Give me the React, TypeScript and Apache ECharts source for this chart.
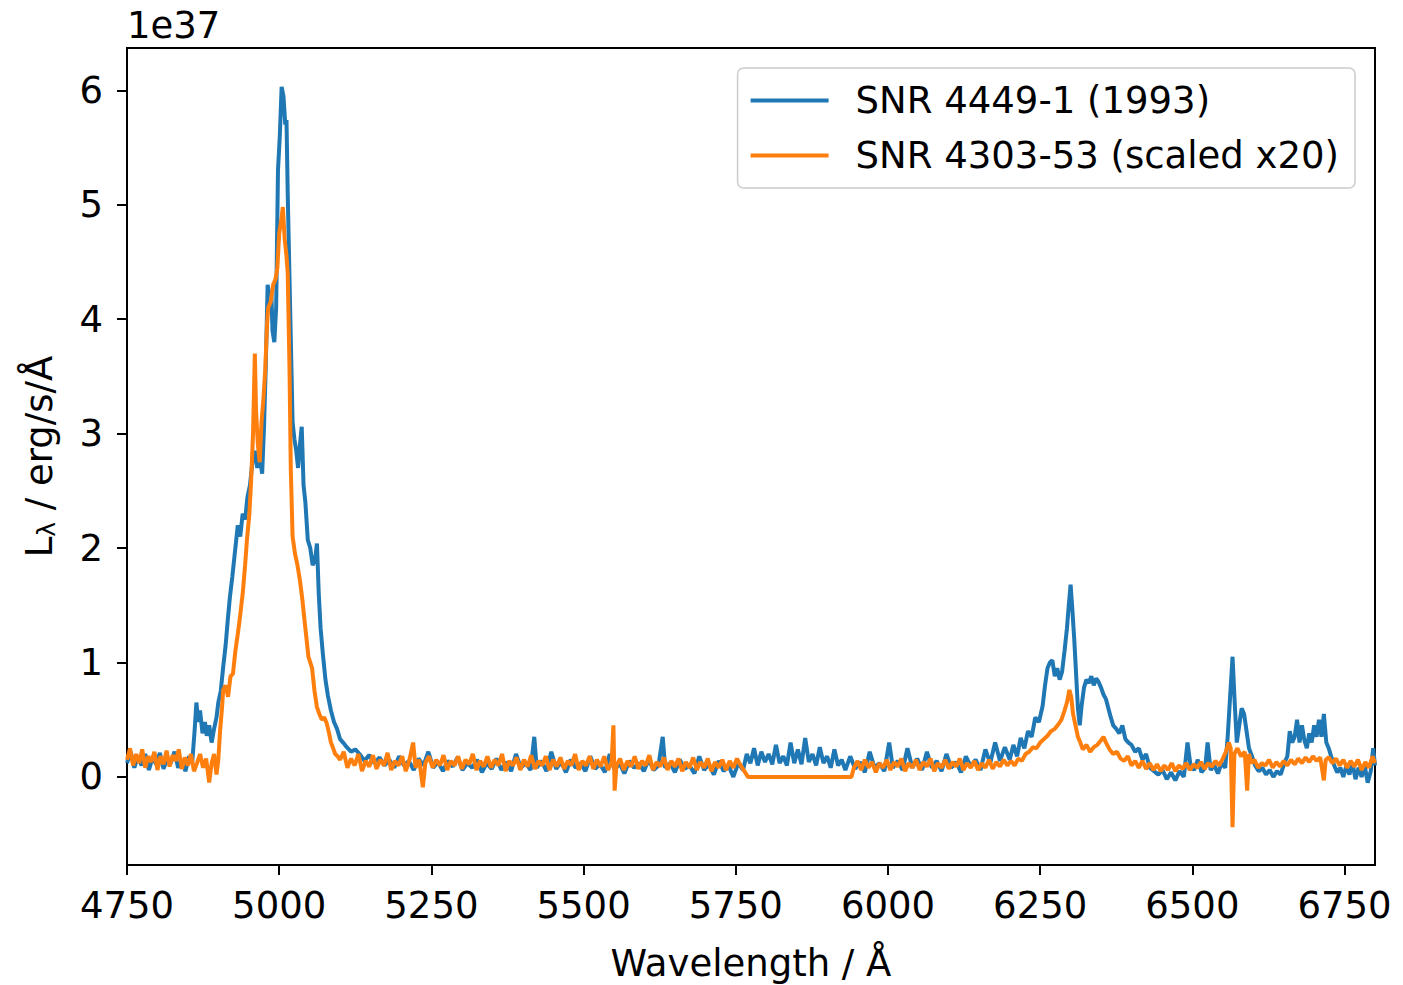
import React, { useEffect, useRef } from "react";
import * as echarts from "echarts";

// Values in units of 1e37 erg/s/Å
const blueWave = [
  4750, 4756, 4762, 4768, 4774, 4780, 4786, 4792, 4798, 4804, 4810, 4816, 4822, 4828, 4834, 4840, 4846, 4852, 4857, 4861,
  4864, 4867, 4870, 4874, 4878, 4881, 4885, 4889, 4893, 4897, 4900, 4904, 4908, 4912, 4916, 4919, 4923, 4927, 4932, 4936,
  4940, 4944, 4948, 4952, 4956, 4960, 4964, 4968, 4972, 4975, 4978, 4981, 4984, 4987, 4989, 4992, 4995, 4998, 5001, 5004,
  5007, 5010, 5012, 5014, 5017, 5020, 5022, 5025, 5028, 5031, 5034, 5037, 5040, 5043, 5047, 5051, 5055, 5059, 5062, 5065,
  5068, 5072, 5076, 5080, 5085, 5090, 5095, 5100, 5105, 5111, 5118, 5125, 5132, 5140, 5148, 5156, 5165, 5173, 5181, 5189,
  5197, 5205, 5213, 5221, 5229, 5237, 5245, 5253, 5261, 5269, 5277, 5285, 5293, 5301, 5309, 5317, 5325, 5333, 5341, 5349,
  5357, 5365, 5373, 5381, 5389, 5397, 5405, 5413, 5419, 5423, 5431, 5439, 5447, 5455, 5463, 5471, 5479, 5487, 5495, 5503,
  5511, 5519, 5527, 5535, 5543, 5551, 5559, 5567, 5575, 5583, 5591, 5599, 5607, 5615, 5623, 5630, 5634, 5642, 5650, 5658,
  5666, 5674, 5682, 5690, 5698, 5706, 5714, 5722, 5730, 5738, 5746, 5754, 5762, 5768, 5774, 5780, 5786, 5792, 5798, 5804,
  5810, 5816, 5822, 5828, 5834, 5840, 5846, 5852, 5858, 5864, 5870, 5876, 5882, 5888, 5894, 5900, 5906, 5912, 5918, 5924,
  5930, 5938, 5946, 5954, 5962, 5970, 5978, 5986, 5994, 6002, 6008, 6016, 6024, 6032, 6040, 6048, 6056, 6064, 6072, 6080,
  6088, 6096, 6104, 6112, 6120, 6128, 6136, 6144, 6152, 6160, 6168, 6176, 6184, 6192, 6200, 6206, 6212, 6218, 6224, 6230,
  6236, 6242, 6248, 6254, 6258, 6262, 6266, 6270, 6274, 6278, 6282, 6286, 6290, 6294, 6297, 6300, 6303, 6306, 6309, 6312,
  6315, 6318, 6322, 6326, 6330, 6334, 6338, 6342, 6346, 6350, 6354, 6358, 6362, 6366, 6370, 6375, 6380, 6385, 6390, 6395,
  6400, 6406, 6412, 6418, 6424, 6430, 6437, 6444, 6451, 6458, 6465, 6472, 6479, 6486, 6492, 6497, 6503, 6509, 6515, 6521,
  6525, 6530, 6536, 6542, 6548, 6554, 6558, 6562, 6566, 6570, 6573, 6577, 6581, 6585, 6589, 6593, 6598, 6603, 6609, 6615,
  6621, 6627, 6633, 6639, 6645, 6651, 6656, 6660, 6664, 6668, 6672, 6676, 6680, 6684, 6688, 6692, 6696, 6700, 6704, 6708,
  6712, 6716, 6720, 6724, 6728, 6733, 6738, 6743, 6748, 6753, 6758, 6763, 6768, 6773, 6778, 6783, 6788, 6793, 6797, 6800,
];
const blueFlux = [
  0.12, 0.22, 0.08, 0.18, 0.10, 0.20, 0.06, 0.17, 0.11, 0.21, 0.07, 0.16, 0.12, 0.22, 0.08, 0.15, 0.05, 0.18, 0.12, 0.40,
  0.65, 0.48, 0.58, 0.38, 0.48, 0.36, 0.45, 0.30, 0.42, 0.52, 0.65, 0.75, 0.96, 1.15, 1.40, 1.57, 1.75, 1.95, 2.20, 2.10,
  2.30, 2.25, 2.45, 2.55, 2.75, 2.85, 2.70, 2.80, 2.65, 3.05, 3.60, 4.30, 4.20, 4.25, 3.90, 3.80, 4.10, 5.30, 5.60, 6.03,
  5.95, 5.70, 5.74, 5.10, 4.34, 3.60, 3.10, 2.95, 2.85, 2.70, 2.90, 3.06, 2.55, 2.40, 2.07, 2.00, 1.85, 1.90, 2.04, 1.60,
  1.30, 1.06, 0.85, 0.71, 0.58, 0.48, 0.42, 0.33, 0.30, 0.26, 0.22, 0.24, 0.20, 0.14, 0.19, 0.12, 0.17, 0.10, 0.15, 0.08,
  0.18, 0.10, 0.14, 0.06, 0.16, 0.10, 0.22, 0.08, 0.13, 0.05, 0.14, 0.09, 0.17, 0.06, 0.12, 0.08, 0.15, 0.04, 0.12, 0.07,
  0.16, 0.06, 0.13, 0.05, 0.20, 0.08, 0.12, 0.06, 0.35, 0.08, 0.14, 0.05, 0.22, 0.07, 0.13, 0.04, 0.15, 0.08, 0.12, 0.05,
  0.18, 0.07, 0.11, 0.04, 0.20, 0.06, 0.12, 0.03, 0.14, 0.08, 0.12, 0.05, 0.15, 0.06, 0.10, 0.35, 0.08, 0.12, 0.04, 0.15,
  0.07, 0.10, 0.03, 0.18, 0.06, 0.11, 0.02, 0.14, 0.05, 0.10, 0.00, 0.12, 0.06, 0.20, 0.12, 0.25, 0.10, 0.22, 0.13, 0.20,
  0.11, 0.28, 0.12, 0.18, 0.10, 0.30, 0.12, 0.24, 0.11, 0.34, 0.13, 0.20, 0.10, 0.26, 0.12, 0.18, 0.08, 0.24, 0.10, 0.15,
  0.06, 0.18, 0.07, 0.13, 0.04, 0.22, 0.08, 0.12, 0.05, 0.30, 0.08, 0.14, 0.06, 0.25, 0.08, 0.16, 0.06, 0.22, 0.08, 0.14,
  0.05, 0.20, 0.08, 0.13, 0.04, 0.18, 0.09, 0.15, 0.06, 0.24, 0.12, 0.30, 0.14, 0.26, 0.15, 0.28, 0.18, 0.34, 0.25, 0.40,
  0.35, 0.52, 0.48, 0.62, 0.80, 0.95, 1.00, 1.02, 0.88, 0.95, 0.85, 0.92, 1.10, 1.30, 1.50, 1.68, 1.45, 1.20, 0.90, 0.60,
  0.45, 0.62, 0.78, 0.85, 0.82, 0.88, 0.80, 0.86, 0.83, 0.78, 0.72, 0.68, 0.60, 0.52, 0.45, 0.42, 0.38, 0.45, 0.33, 0.30,
  0.28, 0.22, 0.25, 0.15, 0.20, 0.08, 0.05, 0.02, 0.06, -0.02, 0.04, -0.03, 0.05, 0.00, 0.30, 0.10, 0.06, 0.15, 0.04, 0.08,
  0.30, 0.06, 0.10, 0.03, 0.12, 0.08, 0.35, 0.70, 1.05, 0.60, 0.30, 0.45, 0.60, 0.55, 0.40, 0.25, 0.18, 0.10, 0.05, 0.08,
  0.02, 0.06, 0.00, 0.05, 0.02, 0.12, 0.18, 0.40, 0.30, 0.35, 0.50, 0.30, 0.45, 0.32, 0.25, 0.38, 0.30, 0.45, 0.35, 0.50,
  0.35, 0.55, 0.30, 0.25, 0.18, 0.10, 0.04, 0.08, 0.00, 0.10, 0.02, 0.12, -0.02, 0.08, 0.00, 0.10, -0.05, 0.05, 0.25, 0.10,
];

const orangeWave = [
  4750, 4755, 4760, 4765, 4770, 4775, 4780, 4785, 4790, 4795, 4800, 4805, 4810, 4815, 4820, 4825, 4830, 4835, 4840, 4845,
  4850, 4855, 4860, 4865, 4870, 4875, 4880, 4885, 4889, 4893, 4897, 4900, 4903, 4906, 4908, 4912, 4916, 4920, 4924, 4928,
  4932, 4935, 4940, 4944, 4947, 4951, 4954, 4957, 4960, 4962, 4965, 4968, 4971, 4974, 4977, 4980, 4982, 4986, 4990, 4994,
  4997, 5000, 5003, 5006, 5009, 5012, 5014, 5017, 5019, 5022, 5026, 5030, 5034, 5038, 5042, 5045, 5048, 5051, 5054, 5058,
  5062, 5066, 5070, 5074, 5078, 5082, 5085, 5088, 5092, 5096, 5100, 5106, 5112, 5118, 5124, 5130, 5136, 5142, 5148, 5154,
  5160, 5166, 5172, 5178, 5184, 5190, 5196, 5202, 5208, 5214, 5220, 5224, 5230, 5236, 5240, 5246, 5252, 5258, 5264, 5270,
  5276, 5282, 5288, 5294, 5300, 5306, 5312, 5318, 5324, 5330, 5336, 5342, 5348, 5354, 5360, 5366, 5372, 5378, 5384, 5390,
  5396, 5402, 5408, 5414, 5420, 5426, 5432, 5438, 5444, 5450, 5456, 5462, 5468, 5474, 5480, 5486, 5492, 5498, 5504, 5510,
  5516, 5522, 5528, 5534, 5540, 5546, 5549, 5551, 5554, 5560, 5566, 5572, 5578, 5584, 5590, 5596, 5602, 5608, 5614, 5620,
  5626, 5632, 5638, 5644, 5650, 5656, 5662, 5668, 5674, 5680, 5686, 5692, 5698, 5704, 5710, 5716, 5722, 5728, 5734, 5740,
  5746, 5752, 5758, 5764, 5770, 5940, 5944, 5950, 5956, 5962, 5968, 5974, 5980, 5986, 5992, 5998, 6004, 6010, 6016, 6022,
  6028, 6034, 6040, 6046, 6052, 6058, 6064, 6070, 6076, 6082, 6088, 6094, 6100, 6106, 6112, 6118, 6124, 6130, 6136, 6142,
  6148, 6154, 6160, 6166, 6172, 6178, 6184, 6190, 6196, 6202, 6208, 6214, 6220, 6226, 6232, 6238, 6244, 6250, 6256, 6262,
  6268, 6274, 6280, 6285, 6290, 6294, 6298, 6301, 6304, 6308, 6312, 6316, 6320, 6326, 6332, 6338, 6344, 6350, 6354, 6358,
  6364, 6370, 6376, 6382, 6388, 6394, 6400, 6406, 6412, 6418, 6424, 6430, 6436, 6442, 6448, 6454, 6460, 6466, 6472, 6478,
  6484, 6490, 6496, 6502, 6508, 6514, 6520, 6526, 6532, 6538, 6544, 6550, 6555, 6560, 6563, 6566, 6569, 6574, 6580, 6586,
  6590, 6593, 6597, 6602, 6608, 6614, 6620, 6626, 6632, 6638, 6644, 6650, 6656, 6662, 6668, 6674, 6680, 6686, 6692, 6698,
  6704, 6710, 6716, 6719, 6724, 6730, 6736, 6742, 6748, 6754, 6760, 6766, 6772, 6778, 6784, 6790, 6796, 6800,
];
const orangeFlux = [
  0.15, 0.25, 0.10, 0.20, 0.12, 0.24, 0.08, 0.18, 0.13, 0.22, 0.06, 0.18, 0.11, 0.23, 0.09, 0.19, 0.14, 0.24, 0.07, 0.17,
  0.10, 0.20, 0.05, 0.12, 0.20, 0.08, 0.16, -0.05, 0.12, 0.20, 0.02, 0.15, 0.41, 0.60, 0.76, 0.80, 0.70, 0.88, 0.90, 1.10,
  1.25, 1.37, 1.60, 1.85, 2.07, 2.30, 2.60, 3.00, 3.70, 3.20, 2.90, 2.75, 3.10, 3.30, 3.55, 3.95, 4.10, 4.15, 4.30, 4.35,
  4.45, 4.75, 4.85, 4.98, 4.70, 4.55, 4.40, 3.55, 2.70, 2.10, 1.95, 1.85, 1.72, 1.55, 1.35, 1.20, 1.05, 1.00, 0.95, 0.75,
  0.61, 0.55, 0.50, 0.52, 0.47, 0.38, 0.30, 0.26, 0.20, 0.18, 0.15, 0.22, 0.08, 0.16, 0.10, 0.20, 0.05, 0.14, 0.09, 0.19,
  0.07, 0.15, 0.10, 0.21, 0.06, 0.14, 0.10, 0.18, 0.05, 0.15, 0.30, 0.08, 0.15, -0.09, 0.12, 0.18, 0.08, 0.15, 0.10, 0.19,
  0.06, 0.14, 0.10, 0.18, 0.07, 0.15, 0.11, 0.20, 0.06, 0.14, 0.09, 0.18, 0.08, 0.15, 0.10, 0.20, 0.05, 0.14, 0.10, 0.17,
  0.06, 0.15, 0.09, 0.19, 0.07, 0.14, 0.10, 0.18, 0.06, 0.15, 0.09, 0.17, 0.07, 0.14, 0.10, 0.20, 0.06, 0.14, 0.10, 0.18,
  0.07, 0.15, 0.09, 0.18, 0.06, 0.12, 0.45, -0.12, 0.10, 0.16, 0.06, 0.14, 0.09, 0.18, 0.07, 0.14, 0.10, 0.19, 0.06, 0.13,
  0.09, 0.17, 0.06, 0.14, 0.09, 0.16, 0.05, 0.13, 0.08, 0.17, 0.06, 0.13, 0.08, 0.16, 0.05, 0.13, 0.08, 0.15, 0.06, 0.14,
  0.08, 0.16, 0.10, 0.05, 0.00, 0.00, 0.08, 0.14, 0.06, 0.15, 0.08, 0.13, 0.04, 0.12, 0.08, 0.15, 0.06, 0.13, 0.09, 0.16,
  0.05, 0.12, 0.08, 0.15, 0.06, 0.13, 0.09, 0.16, 0.05, 0.12, 0.08, 0.15, 0.07, 0.13, 0.09, 0.16, 0.06, 0.12, 0.08, 0.14,
  0.06, 0.12, 0.08, 0.15, 0.07, 0.13, 0.09, 0.15, 0.10, 0.14, 0.10, 0.16, 0.14, 0.20, 0.22, 0.26, 0.25, 0.30, 0.33, 0.36,
  0.40, 0.42, 0.46, 0.50, 0.58, 0.65, 0.76, 0.70, 0.55, 0.45, 0.35, 0.30, 0.24, 0.28, 0.22, 0.26, 0.28, 0.32, 0.35, 0.30,
  0.24, 0.20, 0.22, 0.16, 0.14, 0.18, 0.10, 0.14, 0.08, 0.14, 0.07, 0.12, 0.06, 0.11, 0.05, 0.10, 0.06, 0.12, 0.05, 0.10,
  0.07, 0.12, 0.06, 0.11, 0.08, 0.13, 0.07, 0.12, 0.09, 0.14, 0.10, 0.16, 0.22, 0.30, 0.25, -0.44, 0.20, 0.25, 0.18, 0.22,
  -0.12, 0.20, 0.12, 0.15, 0.08, 0.12, 0.10, 0.15, 0.08, 0.13, 0.09, 0.14, 0.10, 0.15, 0.11, 0.16, 0.12, 0.17, 0.13, 0.18,
  0.14, 0.17, -0.03, 0.15, 0.17, 0.12, 0.16, 0.10, 0.15, 0.08, 0.14, 0.09, 0.15, 0.06, 0.13, 0.08, 0.18, 0.12,
];

const xTicks = [4750, 5000, 5250, 5500, 5750, 6000, 6250, 6500, 6750];
const yTicks = [0, 1, 2, 3, 4, 5, 6];
const seriesNames = ["SNR 4449-1 (1993)", "SNR 4303-53 (scaled x20)"];
const seriesColors = ["#1f77b4", "#ff7f0e"];

const FONT = "DejaVu Sans";
const FS = 37;

export default function App() {
  const ref = useRef<HTMLDivElement>(null);

  useEffect(() => {
    if (!ref.current) return;
    const chart = echarts.init(ref.current, undefined, { renderer: "svg" });
    const blueData = blueWave.map((w, i) => [w, blueFlux[i]]);
    const orangeData = orangeWave.map((w, i) => [w, orangeFlux[i]]);

    chart.setOption({
      animation: false,
      backgroundColor: "#ffffff",
      textStyle: { fontFamily: FONT },
      grid: {
        left: 127,
        right: 28,
        top: 48,
        bottom: 120,
        show: true,
        borderColor: "#000",
        borderWidth: 2,
        outerBoundsMode: "none",
      },
      legend: {
        data: seriesNames,
        orient: "vertical",
        right: 48,
        top: 68,
        icon: "rect",
        itemWidth: 78,
        itemHeight: 4,
        itemGap: 18,
        padding: [14, 16, 14, 13],
        borderColor: "#cccccc",
        borderWidth: 1.5,
        borderRadius: 6,
        backgroundColor: "#ffffff",
        textStyle: {
          fontFamily: FONT,
          fontSize: FS,
          color: "#000",
          padding: [0, 0, 0, 22],
        },
      },
      xAxis: {
        type: "value",
        min: 4750,
        max: 6800,
        name: "Wavelength / Å",
        nameLocation: "middle",
        nameGap: 80,
        nameTextStyle: { fontFamily: FONT, fontSize: FS, color: "#000" },
        axisLine: { show: true, onZero: false, lineStyle: { color: "#000", width: 2 } },
        axisTick: {
          show: true,
          length: 10,
          lineStyle: { color: "#000", width: 2 },
          customValues: xTicks,
        },
        axisLabel: {
          fontFamily: FONT,
          fontSize: FS,
          color: "#000",
          margin: 22,
          customValues: xTicks,
          formatter: (v: number) => String(v),
        },
        splitLine: { show: false },
      },
      yAxis: {
        type: "value",
        min: -0.77,
        max: 6.37,
        name: "L{sub|λ} / erg/s/Å",
        nameLocation: "middle",
        nameGap: 68,
        nameRotate: 90,
        nameTextStyle: {
          fontFamily: FONT,
          fontSize: FS,
          color: "#000",
          rich: {
            sub: { fontFamily: FONT, fontSize: 25, color: "#000", verticalAlign: "bottom", padding: [14, 0, 0, 0] },
          },
        },
        axisLine: { show: true, onZero: false, lineStyle: { color: "#000", width: 2 } },
        axisTick: {
          show: true,
          length: 10,
          lineStyle: { color: "#000", width: 2 },
          customValues: yTicks,
        },
        axisLabel: {
          fontFamily: FONT,
          fontSize: FS,
          color: "#000",
          margin: 24,
          customValues: yTicks,
          formatter: (v: number) => String(v),
        },
        splitLine: { show: false },
      },
      graphic: [
        {
          type: "text",
          left: 127,
          top: 7,
          style: { text: "1e37", fontFamily: FONT, fontSize: FS, fill: "#000" },
        },
      ],
      series: [
        {
          name: seriesNames[0],
          type: "line",
          data: blueData,
          showSymbol: false,
          symbol: "none",
          color: seriesColors[0],
          lineStyle: { width: 4, color: seriesColors[0] },
          clip: true,
          z: 2,
        },
        {
          name: seriesNames[1],
          type: "line",
          data: orangeData,
          showSymbol: false,
          symbol: "none",
          color: seriesColors[1],
          lineStyle: { width: 4, color: seriesColors[1] },
          clip: true,
          z: 3,
        },
      ],
    });

    return () => {
      chart.dispose();
    };
  }, []);

  return (
    <div
      ref={ref}
      style={{ position: "fixed", left: 0, top: 0, width: 1403, height: 985, background: "#fff" }}
    />
  );
}
